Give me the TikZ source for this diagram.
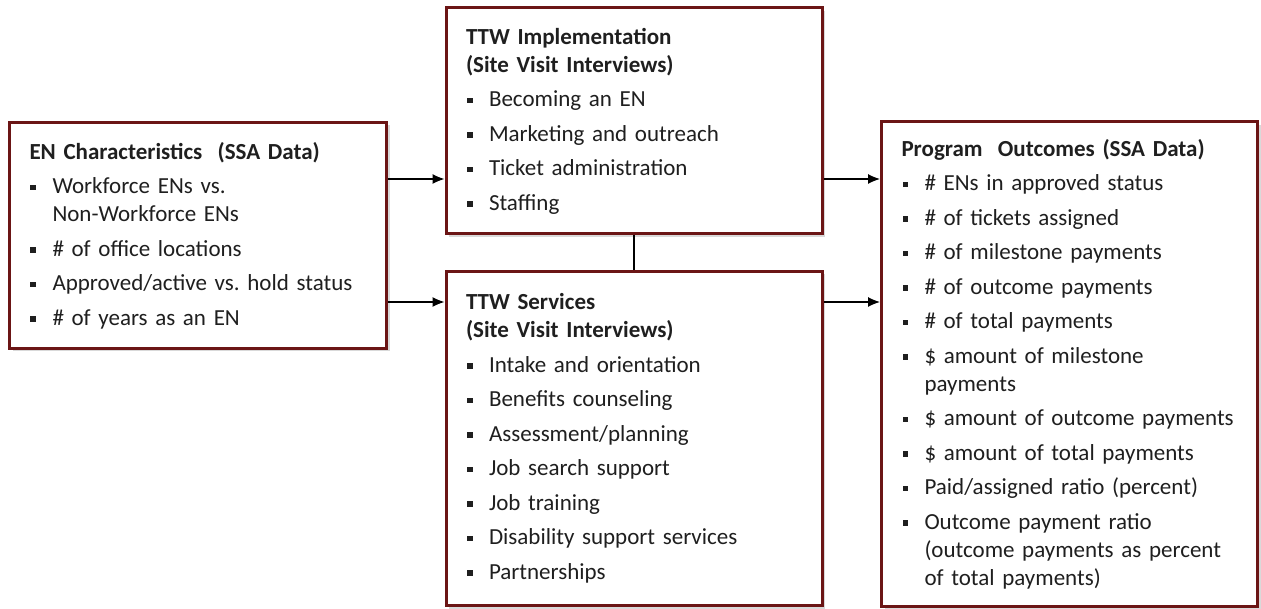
\documentclass[tikz,border=0pt]{standalone}
\RequirePackage{fontspec}
\setmainfont{Carlito}
\RequirePackage{tikz}
\usetikzlibrary{shadows}
\usetikzlibrary{arrows.meta}

\definecolor{maroon}{HTML}{6B1515}
\definecolor{ink}{HTML}{1F1F1F}

\newcommand{\sqbullet}{\rule[3.5pt]{5.5pt}{5.5pt}}
\newcommand{\entry}[1]{\par\hangindent=23pt\hangafter=1\noindent\makebox[23pt][l]{\hspace{1pt}\sqbullet}#1\par}

\begin{document}
\frenchspacing
\begin{tikzpicture}[>={Latex[length=12pt,width=10pt]},x=1pt,y=-1pt,
                    box/.style={draw=maroon,line width=3pt,fill=white,rectangle,
                        text=ink,align=left,inner xsep=20pt,inner ysep=0pt,
                        font=\fontsize{23}{28}\selectfont,
                        execute at begin node=\setlength{\parskip}{6.5pt},
                        drop shadow={shadow xshift=3pt,shadow yshift=-3pt,opacity=.25,fill=black!60}},
                    link/.style={line width=1.2pt,->}]
                        \useasboundingbox (0,0) rectangle (1261,609);
                        \node[box,text width=337pt,minimum width=377pt,minimum height=226pt] (en) at (198,235.5)
                            {\textbf{EN Characteristics\ \ (SSA Data)}
                             \entry{Workforce ENs vs.\newline Non-Workforce ENs}
                             \entry{\# of office locations}
                             \entry{Approved/active vs. hold status}
                             \entry{\# of years as an EN}};
                        \node[box,text width=336pt,minimum width=376pt,minimum height=226pt] (impl) at (634,121)
                            {\textbf{TTW Implementation\\(Site Visit Interviews)}
                             \entry{Becoming an EN}
                             \entry{Marketing and outreach}
                             \entry{Ticket administration}
                             \entry{Staffing}};
                        \node[box,text width=336pt,minimum width=376pt,minimum height=334pt] (serv) at (634,438.5)
                            {\textbf{TTW Services\\(Site Visit Interviews)}
                             \entry{Intake and orientation}
                             \entry{Benefits counseling}
                             \entry{Assessment/planning}
                             \entry{Job search support}
                             \entry{Job training}
                             \entry{Disability support services}
                             \entry{Partnerships}};
                        \node[box,text width=336pt,minimum width=376pt,minimum height=484pt] (outc) at (1069.5,364)
                            {\textbf{Program\ \ Outcomes (SSA Data)}
                             \entry{\# ENs in approved status}
                             \entry{\# of tickets assigned}
                             \entry{\# of milestone payments}
                             \entry{\# of outcome payments}
                             \entry{\# of total payments}
                             \entry{\$ amount of milestone\newline payments}
                             \entry{\$ amount of outcome payments}
                             \entry{\$ amount of total payments}
                             \entry{Paid/assigned ratio (percent)}
                             \entry{Outcome payment ratio\newline (outcome payments as percent\newline of total payments)}};
                        \coordinate (upper) at (0,179);
                        \coordinate (lower) at (0,302);
                        \draw[link] (en.east |- upper) -- (impl.west |- upper);
                        \draw[link] (en.east |- lower) -- (serv.west |- lower);
                        \draw[link] (impl.east |- upper) -- (outc.west |- upper);
                        \draw[link] (serv.east |- lower) -- (outc.west |- lower);
                        \draw[line width=1.2pt] (impl.south) -- (serv.north);
                    \end{tikzpicture}
\end{document}
